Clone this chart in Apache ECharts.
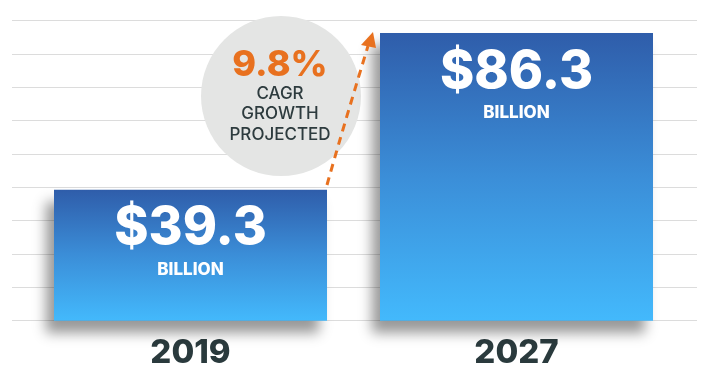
<!DOCTYPE html>
<html>
<head>
<meta charset="utf-8">
<script src="https://cdn.jsdelivr.net/npm/echarts@6/dist/echarts.min.js"></script>
<style>html,body{margin:0;padding:0;background:#fff;}#c{width:712px;height:385px;}</style>
</head>
<body>
<div id="c"></div>
<script>
const categories = ['2019', '2027'];
const values = [39.3, 86.3];
const unitText = 'BILLION';
const cagrValue = '9.8%';
const cagrLines = ['CAGR', 'GROWTH', 'PROJECTED'];
const axisMax = 90;
const axisInterval = 10;

const FONT = 'Inter, "Open Sans", sans-serif';
const chart = echarts.init(document.getElementById('c'));

const barGradient = new echarts.graphic.LinearGradient(0, 0, 0, 1, [
  { offset: 0, color: '#2F5DAA' },
  { offset: 0.5, color: '#3B8ED8' },
  { offset: 1, color: '#43B9FC' }
]);

chart.setOption({
  animation: false,
  backgroundColor: '#ffffff',
  grid: [
    { left: 12, right: 15, top: 20.7, bottom: 64.3 },
    { left: 27.5, width: 652, top: 20.7, bottom: 64.3 }
  ],
  xAxis: [
    { gridIndex: 0, type: 'category', data: [''], show: false },
    {
      gridIndex: 1, type: 'category', data: categories,
      axisLine: { show: false }, axisTick: { show: false },
      axisLabel: { margin: 16, fontSize: 33, fontWeight: 800, color: '#2A3A3D', fontFamily: FONT }
    }
  ],
  yAxis: [
    {
      gridIndex: 0, type: 'value', min: 0, max: axisMax, interval: axisInterval,
      axisLabel: { show: false }, axisLine: { show: false }, axisTick: { show: false },
      splitLine: { show: true, lineStyle: { color: '#DCDCDC', width: 1.2 } }
    },
    {
      gridIndex: 1, type: 'value', min: 0, max: axisMax, interval: axisInterval,
      show: false, splitLine: { show: false }
    }
  ],
  series: [{
    type: 'bar',
    xAxisIndex: 1, yAxisIndex: 1,
    data: values,
    barWidth: 273,
    itemStyle: {
      color: barGradient,
      shadowColor: 'rgba(0,0,0,0.4)',
      shadowBlur: 12,
      shadowOffsetX: -8,
      shadowOffsetY: 12
    },
    label: {
      show: true,
      position: 'insideTop',
      distance: 11,
      formatter: p => '{a|$' + p.value.toFixed(1) + '}\n{b|' + unitText + '}',
      rich: {
        a: { fontSize: 52, fontWeight: 800, color: '#ffffff', lineHeight: 56, fontFamily: FONT },
        b: { fontSize: 17, fontWeight: 800, color: '#ffffff', lineHeight: 26, fontFamily: FONT }
      }
    }
  }]
});

const textColor = '#2D3B3E';
const graphics = [
  { type: 'circle', shape: { cx: 281, cy: 96, r: 80 }, style: { fill: '#E4E5E4' }, z: 1 },
  { type: 'text', x: 280, y: 65, style: { text: cagrValue, fill: '#E8711F', font: '800 36px ' + FONT, textAlign: 'center', textVerticalAlign: 'middle' }, z: 3 }
];
const lineYs = [94, 114, 135];
cagrLines.forEach((t, i) => {
  graphics.push({ type: 'text', x: 280, y: lineYs[i], style: { text: t, fill: textColor, font: '500 17px ' + FONT, textAlign: 'center', textVerticalAlign: 'middle' }, z: 3 });
});
graphics.push({
  type: 'bezierCurve',
  shape: { x1: 327, y1: 185, cpx1: 340, cpy1: 138, x2: 368, y2: 46 },
  style: { stroke: '#E8711F', lineWidth: 3, lineDash: [8, 6], fill: null },
  z: 4
});
graphics.push({
  type: 'polygon',
  shape: { points: [[373, 32], [361, 45], [376, 48]] },
  style: { fill: '#E8711F' },
  z: 4
});
chart.setOption({ graphic: graphics });
</script>
</body>
</html>
